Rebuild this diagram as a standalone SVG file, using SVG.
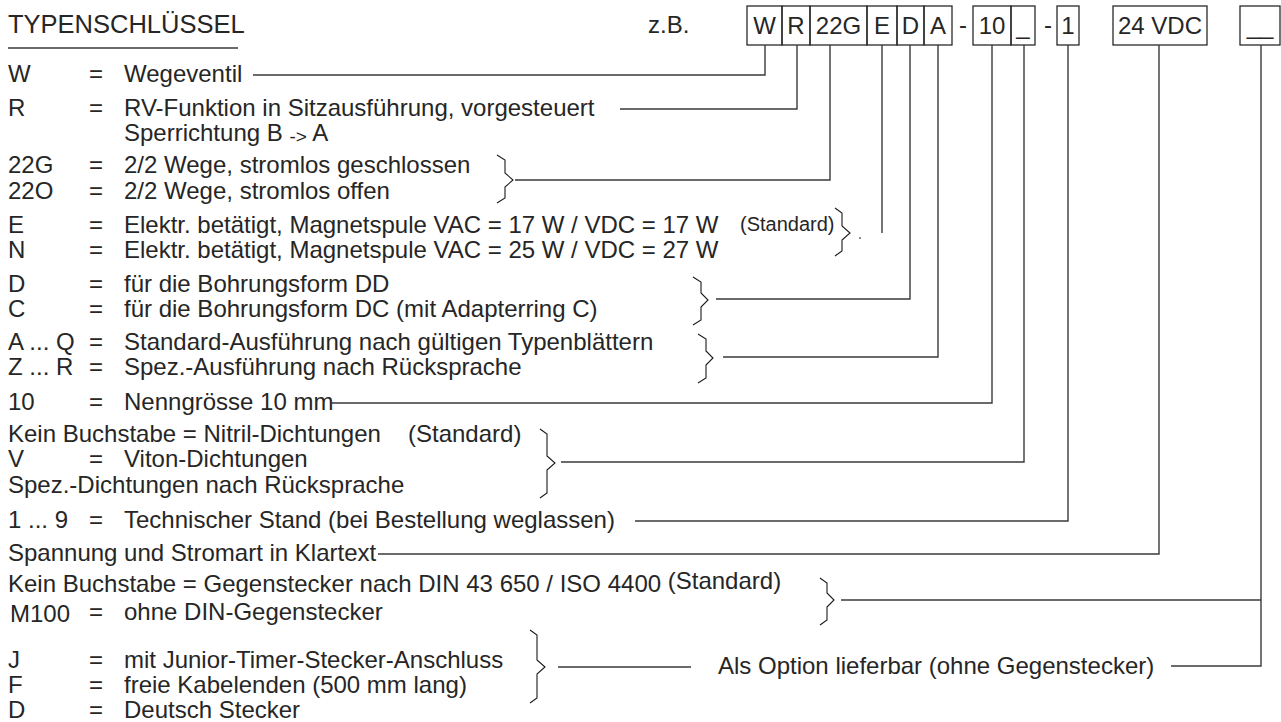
<svg xmlns="http://www.w3.org/2000/svg" width="1281" height="722" viewBox="0 0 1281 722">
<style>
text{font-family:"Liberation Sans",Arial,Helvetica,sans-serif;font-size:24px;fill:#262626}
.t{font-size:25.5px}
.c{text-anchor:middle}
.s{font-size:19px}
.st{font-size:20px}
.box{fill:none;stroke:#2a2a2a;stroke-width:1.3}
.ln{fill:none;stroke:#3a3a3a;stroke-width:1.4}
.br{fill:none;stroke:#1a1a1a;stroke-width:1.1}
</style>
<rect width="1281" height="722" fill="#fff"/>
<g id="title">
<text class="t" x="8" y="33">TYPENSCHLÜSSEL</text>
<line class="ln" x1="8" y1="48" x2="238" y2="48"/>
</g>
<g id="code">
<text x="648" y="33">z.B.</text>
<rect class="box" x="747" y="6" width="35" height="39"/>
<rect class="box" x="782" y="6" width="28" height="39"/>
<rect class="box" x="810" y="6" width="57" height="39"/>
<rect class="box" x="867" y="6" width="30" height="39"/>
<rect class="box" x="897" y="6" width="27" height="39"/>
<rect class="box" x="924" y="6" width="28" height="39"/>
<rect class="box" x="973" y="6" width="38" height="39"/>
<rect class="box" x="1011" y="6" width="24" height="39"/>
<rect class="box" x="1057" y="6" width="22" height="39"/>
<rect class="box" x="1113" y="6" width="94" height="39"/>
<rect class="box" x="1240" y="6" width="40" height="39"/>
<text class="c" x="764.5" y="34">W</text>
<text class="c" x="796" y="34">R</text>
<text class="c" x="838.5" y="34">22G</text>
<text class="c" x="882" y="34">E</text>
<text class="c" x="910.5" y="34">D</text>
<text class="c" x="938" y="34">A</text>
<text class="c" x="963" y="33">-</text>
<text class="c" x="992" y="34">10</text>
<text class="c" x="1023" y="34">_</text>
<text class="c" x="1048" y="33">-</text>
<text class="c" x="1068" y="34">1</text>
<text class="c" x="1160" y="34">24 VDC</text>
<text class="c" x="1260" y="34">__</text>
</g>
<g id="row-w">
<text x="8" y="82">W</text><text x="89" y="82">=</text><text x="124" y="82">Wegeventil</text>
</g>
<g id="row-r">
<text x="8" y="116">R</text><text x="89" y="116">=</text><text x="124" y="116">RV-Funktion in Sitzausführung, vorgesteuert</text>
<text x="124" y="141">Sperrichtung B <tspan class="s" dy="2">-&gt;</tspan><tspan dy="-2"> A</tspan></text>
</g>
<g id="row-22">
<text x="8" y="173">22G</text><text x="89" y="173">=</text><text x="124" y="173">2/2 Wege, stromlos geschlossen</text>
<text x="8" y="199">22O</text><text x="89" y="199">=</text><text x="124" y="199">2/2 Wege, stromlos offen</text>
</g>
<g id="row-e">
<text x="8" y="233">E</text><text x="89" y="233">=</text>
<text x="124" y="233">Elektr. betätigt, Magnetspule VAC = 17 W / VDC = 17 W</text>
<text class="st" x="740" y="231">(Standard)</text>
<text x="8" y="258">N</text><text x="89" y="258">=</text>
<text x="124" y="258">Elektr. betätigt, Magnetspule VAC = 25 W / VDC = 27 W</text>
</g>
<g id="row-d">
<text x="8" y="292">D</text><text x="89" y="292">=</text><text x="124" y="292">für die Bohrungsform DD</text>
<text x="8" y="317">C</text><text x="89" y="317">=</text><text x="124" y="317">für die Bohrungsform DC (mit Adapterring C)</text>
</g>
<g id="row-a">
<text x="8" y="350">A ... Q</text><text x="89" y="350">=</text><text x="124" y="350">Standard-Ausführung nach gültigen Typenblättern</text>
<text x="8" y="375">Z ... R</text><text x="89" y="375">=</text><text x="124" y="375">Spez.-Ausführung nach Rücksprache</text>
</g>
<g id="row-10">
<text x="8" y="410">10</text><text x="89" y="410">=</text><text x="124" y="410">Nenngrösse 10 mm</text>
</g>
<g id="row-v">
<text x="8" y="442">Kein Buchstabe = Nitril-Dichtungen</text><text x="408" y="442">(Standard)</text>
<text x="8" y="467">V</text><text x="89" y="467">=</text><text x="124" y="467">Viton-Dichtungen</text>
<text x="8" y="493">Spez.-Dichtungen nach Rücksprache</text>
</g>
<g id="row-1">
<text x="8" y="528">1 ... 9</text><text x="89" y="528">=</text><text x="124" y="528">Technischer Stand (bei Bestellung weglassen)</text>
</g>
<g id="row-24">
<text x="8" y="561">Spannung und Stromart in Klartext</text>
</g>
<g id="row-m">
<text x="8" y="592">Kein Buchstabe = Gegenstecker nach DIN 43 650 / ISO 4400 <tspan dy="-3">(Standard)</tspan></text>
<text x="10" y="622">M100</text><text x="89" y="620">=</text><text x="124" y="620">ohne DIN-Gegenstecker</text>
</g>
<g id="row-j">
<text x="8" y="668">J</text><text x="89" y="668">=</text><text x="124" y="668">mit Junior-Timer-Stecker-Anschluss</text>
<text x="8" y="693">F</text><text x="89" y="693">=</text><text x="124" y="693">freie Kabelenden (500 mm lang)</text>
<text x="8" y="718">D</text><text x="89" y="718">=</text><text x="124" y="718">Deutsch Stecker</text>
</g>
<g id="option">
<text x="718" y="674">Als Option lieferbar (ohne Gegenstecker)</text>
</g>
<g id="braces">
<path class="br" d="M497,155 L505,160 L505,173 L513,180 L505,187 L505,198 L497,203"/>
<path class="br" d="M835,208 L842,213 L842,226 L850,233 L842,240 L842,251 L835,256"/>
<path class="br" d="M693,277 L701,282 L701,293 L708,300 L701,307 L701,320 L693,325"/>
<path class="br" d="M698,334 L706,339 L706,351 L713,358 L706,365 L706,378 L698,383"/>
<path class="br" d="M540,429 L547,434 L547,456 L555,463 L547,470 L547,493 L540,498"/>
<path class="br" d="M820,578 L827,583 L827,593 L834,600 L827,607 L827,620 L820,625"/>
<path class="br" d="M530,630 L537,635 L537,660 L545,667 L537,674 L537,698 L530,703"/>
<circle cx="860" cy="238" r="0.9" fill="#555"/>
</g>
<g id="connectors">
<polyline class="ln" points="253,75 765,75 765,45"/>
<polyline class="ln" points="620,109 797,109 797,45"/>
<polyline class="ln" points="515,180 830,180 830,45"/>
<polyline class="ln" points="882,45 882,233"/>
<polyline class="ln" points="716,299 910,299 910,45"/>
<polyline class="ln" points="723,357 938,357 938,45"/>
<polyline class="ln" points="331,403 992,403 992,45"/>
<polyline class="ln" points="561,462 1024,462 1024,45"/>
<polyline class="ln" points="635,521 1068,521 1068,45"/>
<polyline class="ln" points="378,554 1159,554 1159,45"/>
<polyline class="ln" points="841,600 1261,600"/>
<polyline class="ln" points="1171,666 1261,666 1261,45"/>
<polyline class="ln" points="558,667 691,667"/>
</g>
</svg>
